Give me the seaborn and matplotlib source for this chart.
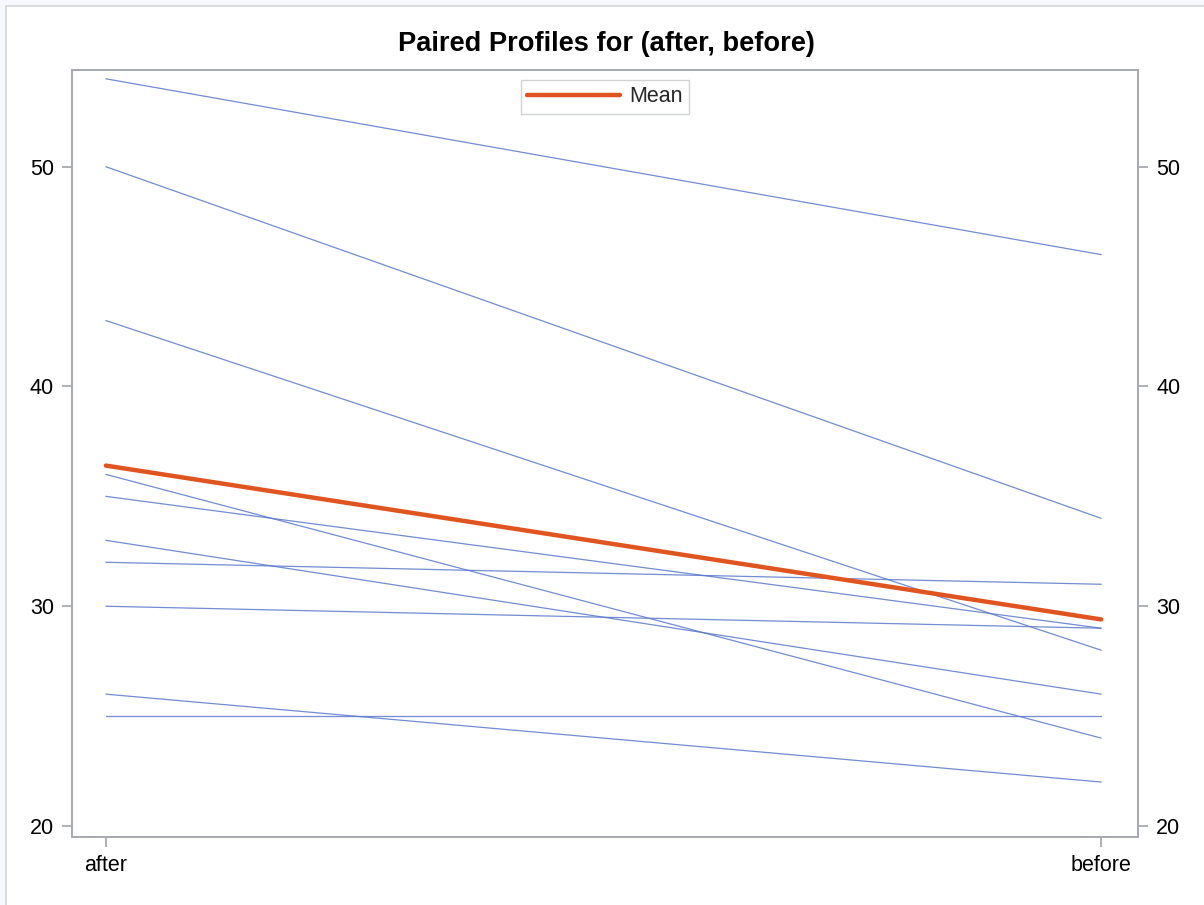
import matplotlib
matplotlib.use("Agg")
import matplotlib.pyplot as plt
from matplotlib.patches import Rectangle
import seaborn as sns
import pandas as pd

# Paired measurements per subject
conditions = ["after", "before"]
after_values = [54, 50, 43, 36, 35, 33, 32, 30, 26, 25]
before_values = [46, 34, 28, 24, 29, 26, 31, 29, 22, 25]
y_ticks = [20, 30, 40, 50]

subjects = list(range(len(after_values)))
df = pd.DataFrame({
    "subject": subjects * 2,
    "condition": [conditions[0]] * len(after_values) + [conditions[1]] * len(before_values),
    "value": after_values + before_values,
})

sns.set_style("white")
plt.rcParams["font.family"] = ["Liberation Sans", "DejaVu Sans"]

fig = plt.figure(figsize=(12.04, 9.05), dpi=100)
fig.patch.set_facecolor("#f6f8fd")
# white panel with a thin border
fig.patches.append(Rectangle((6 / 1204, -0.1), 1.2, 1.1 - 6 / 905, transform=fig.transFigure,
                             facecolor="white", edgecolor="#d4d6da", linewidth=1.2, zorder=-5))

ax = fig.add_axes([72 / 1204, 1 - 837 / 905, (1138 - 72) / 1204, (837 - 70) / 905])
ax.set_facecolor("white")

blue = "#5a78cc"
orange = "#e0541f"

sns.lineplot(data=df, x="condition", y="value", units="subject", estimator=None,
             color=blue, linewidth=0.9, alpha=0.85, ax=ax, legend=False)
sns.lineplot(data=df, x="condition", y="value", estimator="mean", errorbar=None,
             color=orange, linewidth=3.2, ax=ax, label="Mean")

ax.set_xlim(-0.034, 1.037)
ax.set_ylim(19.5, 54.4)
ax.set_xticks([0, 1])
ax.set_xticklabels(conditions)
ax.set_yticks(y_ticks)
ax.set_xlabel("")
ax.set_ylabel("")

frame = "#a7abb0"
for s in ax.spines.values():
    s.set_color(frame)
    s.set_linewidth(1.3)
ax.tick_params(axis="both", direction="out", length=7, width=1.3, color=frame,
               labelsize=15.5, labelcolor="#000000", pad=6, bottom=True, left=True)

ax2 = ax.twinx()
ax2.set_ylim(ax.get_ylim())
ax2.set_yticks(y_ticks)
for s in ax2.spines.values():
    s.set_color(frame)
    s.set_linewidth(1.3)
ax2.tick_params(axis="y", direction="out", length=7, width=1.3, color=frame,
                labelsize=15.5, labelcolor="#000000", pad=6, right=True)

leg = ax.legend(loc="upper center", bbox_to_anchor=(0.5, 0.987), borderaxespad=0,
                fontsize=15.5, handlelength=4.3, handletextpad=0.45, borderpad=0.3,
                fancybox=False, framealpha=1, edgecolor="#d0d2d6")
leg.get_frame().set_linewidth(1.0)

fig.text(606 / 1204, 1 - 44 / 905, "Paired Profiles for (after, before)", ha="center", va="center",
         fontsize=19.6, fontweight="bold", color="#000000")

fig.savefig("out.png", dpi=100, facecolor=fig.get_facecolor())
